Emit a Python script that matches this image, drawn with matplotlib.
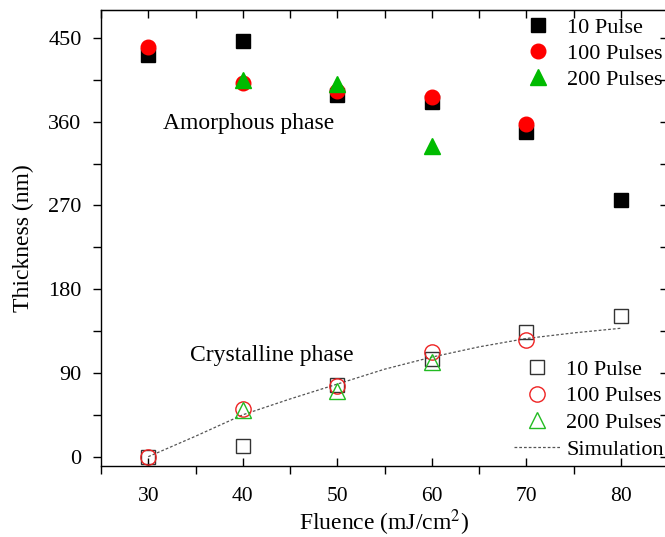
import matplotlib.pyplot as plt
from matplotlib.ticker import MultipleLocator

plt.rcParams['font.family'] = 'Liberation Serif'
plt.rcParams['mathtext.fontset'] = 'stix'

##################################
# Data
##################################
fluence = [30, 40, 50, 60, 70, 80]

# Amorphous phase (filled markers)
am_10 = [432, 447, 389, 381, 349, 276]
am_100_x = [30, 40, 50, 60, 70]
am_100 = [440, 402, 393, 386, 357]
am_200_x = [40, 50, 60]
am_200 = [405, 401, 334]

# Crystalline phase (open markers)
cr_10 = [0, 11, 77, 105, 134, 151]
cr_100_x = [30, 40, 50, 60, 70]
cr_100 = [0, 51, 76, 112, 125]
cr_200_x = [40, 50, 60]
cr_200 = [50, 71, 102]

sim_x = [30, 35, 40, 45, 50, 55, 60, 65, 70, 75, 80]
sim_y = [0, 22, 45, 62, 78, 94, 107, 118, 127, 133, 138]

##################################
# Figure
##################################
fig = plt.figure(figsize=(6.65, 5.37), dpi=100)
ax = fig.add_axes([101 / 665, 71 / 537, 567 / 665, 456 / 537])

h1, = ax.plot(fluence, am_10, 's', color='black', ms=9.5, linestyle='none')
h2, = ax.plot(am_100_x, am_100, 'o', color='#ff0000', ms=10.5, linestyle='none')
h3, = ax.plot(am_200_x, am_200, '^', color='#00bb00', ms=11, linestyle='none')

h7, = ax.plot(sim_x, sim_y, linestyle=(0, (2.2, 1.6)), color='#555555', lw=0.9)
h4, = ax.plot(fluence, cr_10, 's', mfc='none', mec='#333333', mew=1.0, ms=9.5, linestyle='none')
h5, = ax.plot(cr_100_x, cr_100, 'o', mfc='none', mec='#ee2222', mew=1.0, ms=11, linestyle='none')
h6, = ax.plot(cr_200_x, cr_200, '^', mfc='none', mec='#22bb22', mew=1.0, ms=11.5, linestyle='none')

ax.set_xlim(25, 85)
ax.set_ylim(-10, 480)
ax.xaxis.set_major_locator(MultipleLocator(10))
ax.xaxis.set_minor_locator(MultipleLocator(5))
ax.yaxis.set_major_locator(MultipleLocator(90))
ax.yaxis.set_minor_locator(MultipleLocator(45))

ax.tick_params(axis='x', which='major', direction='in', length=6, width=1,
               labelsize=15.5, pad=15)
ax.tick_params(axis='x', which='minor', direction='out', length=6, width=1)
ax.tick_params(axis='y', which='both', direction='out', length=6, width=1,
               labelsize=16, pad=8)

top = ax.secondary_xaxis('top')
top.xaxis.set_major_locator(MultipleLocator(5))
top.tick_params(direction='in', length=6, width=1, labeltop=False)
right = ax.secondary_yaxis('right')
right.yaxis.set_major_locator(MultipleLocator(45))
right.tick_params(direction='in', length=6, width=1, labelright=False)

for s in ax.spines.values():
    s.set_linewidth(1.0)

ax.set_xlabel('Fluence (mJ/cm$^2$)', fontsize=17, labelpad=1)
ax.set_ylabel('Thickness (nm)', fontsize=17, labelpad=10)

ax.text(31.6, 358, 'Amorphous phase', fontsize=17, va='center', ha='left')
ax.text(34.4, 109, 'Crystalline phase', fontsize=17, va='center', ha='left')

leg1 = ax.legend([h1, h2, h3], ['10 Pulse', '100 Pulses', '200 Pulses'],
                 loc='upper left', bbox_to_anchor=(515 / 665, 1 - 17 / 537),
                 bbox_transform=fig.transFigure, frameon=False,
                 fontsize=16, handletextpad=0.25, handlelength=2.1,
                 labelspacing=0.25, borderpad=0, borderaxespad=0)
ax.add_artist(leg1)
ax.legend([h4, h5, h6, h7], ['10 Pulse', '100 Pulses', '200 Pulses', 'Simulation'],
          loc='upper left', bbox_to_anchor=(514 / 665, 1 - 359 / 537),
          bbox_transform=fig.transFigure, frameon=False,
          fontsize=16, handletextpad=0.25, handlelength=2.1,
          labelspacing=0.28, borderpad=0, borderaxespad=0)

fig.savefig('out.png', dpi=100)
